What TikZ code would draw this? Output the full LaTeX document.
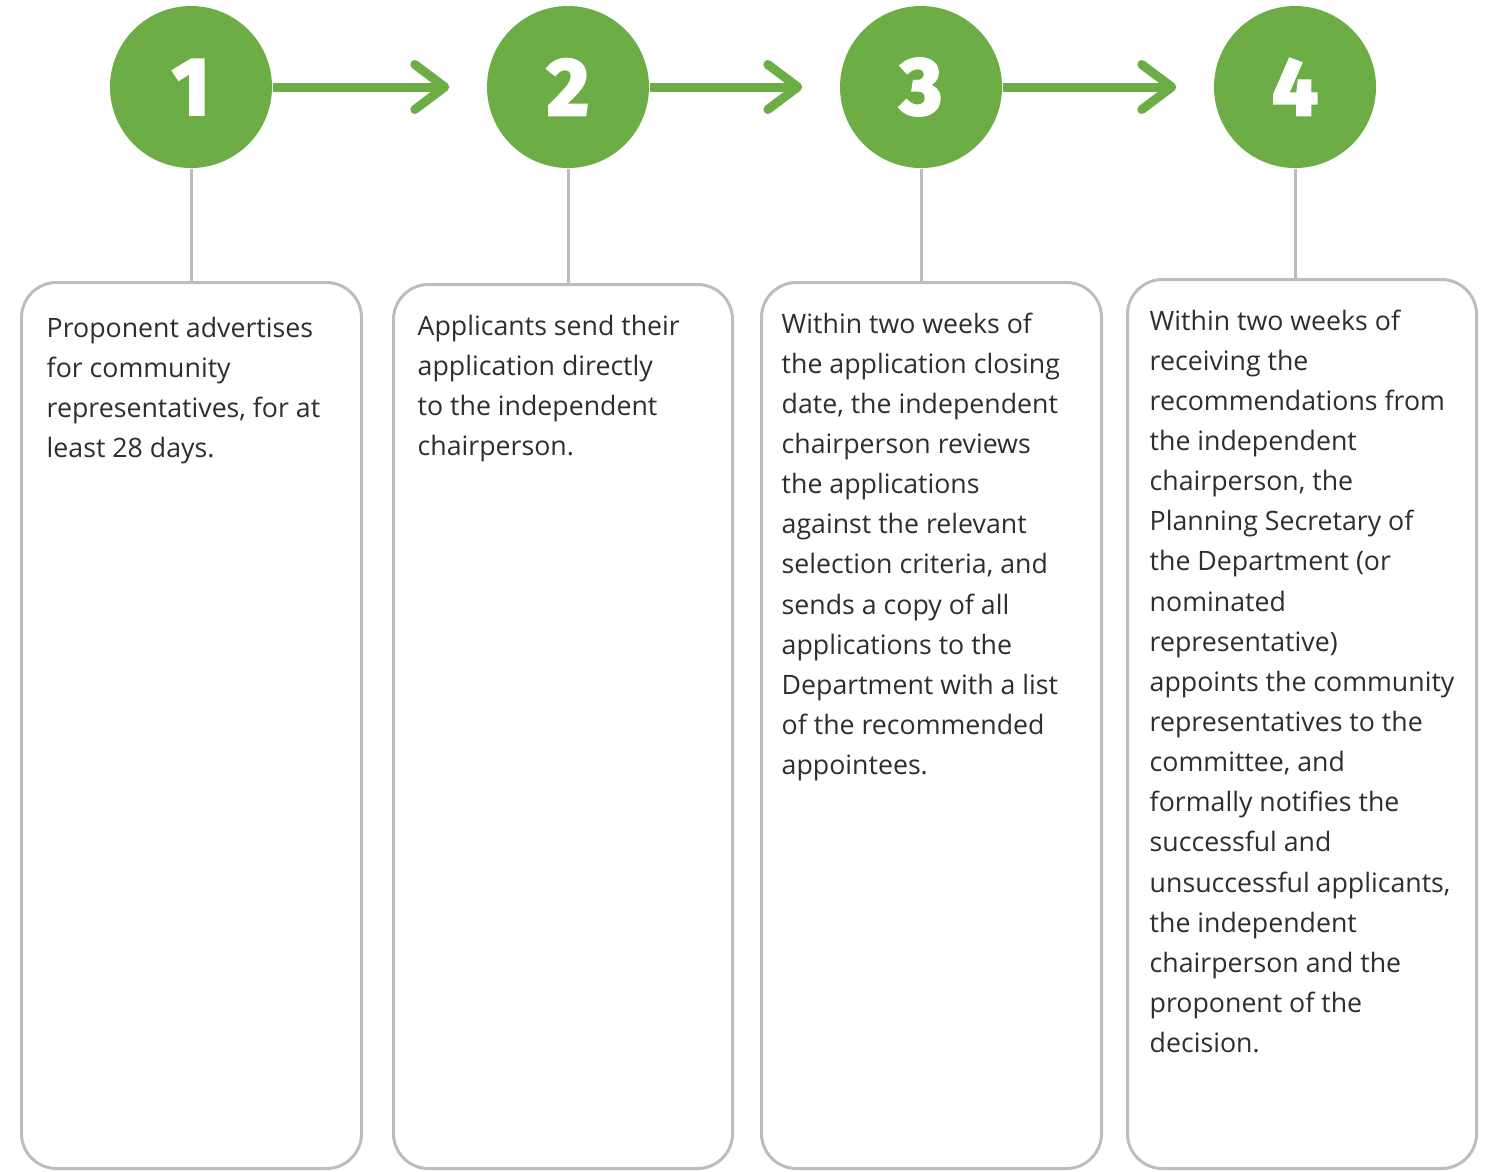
\documentclass[tikz,border=0pt]{standalone}
\usepackage{fontspec}
\setmainfont{Open Sans}
\newfontfamily\numfont{Fira Sans}[BoldFeatures={FakeBold=3.5}]
\usetikzlibrary{arrows.meta}
\definecolor{stepgreen}{HTML}{6DAD45}
\definecolor{linegray}{HTML}{BDBDBD}
\definecolor{textgray}{HTML}{2E2E2E}
\tikzset{
  num/.style={circle, fill=stepgreen, minimum size=1.62cm, inner sep=0pt,
    text=white, font=\numfont\bfseries\fontsize{23}{23}\selectfont},
  card/.style={draw=linegray, line width=0.03cm, rounded corners=0.35cm,
    anchor=north west, inner sep=0pt},
  cardtext/.style={anchor=north west, align=left, inner sep=0pt,
    text=textgray, font=\fontsize{7.6}{11.42}\selectfont},
  flow/.style={-{Straight Barb[length=0.3cm, width=0.45cm, line cap=round, line join=round]},
    draw=stepgreen, line width=0.09cm, shorten >=0.37cm},
  stem/.style={draw=linegray, line width=0.03cm}
}
\begin{document}
\begin{tikzpicture}
\useasboundingbox (0,0) rectangle (14.87,-11.71);
% numbered steps
\foreach \i/\x in {1/1.91,2/5.68,3/9.21,4/12.95}
  \node[num] (n\i) at (\x,-0.87) {\i};
\foreach \a/\b in {1/2,2/3,3/4}
  \draw[flow] (n\a.east) -- (n\b.west);
% cards
\foreach \i/\x/\y/\w in {1/0.20/2.81/3.40,2/3.92/2.83/3.39,3/7.60/2.81/3.40,4/11.26/2.78/3.49}
  \node[card, minimum width=\w cm, minimum height={(11.67-\y)*1cm}] (c\i) at (\x,-\y) {};
\foreach \i in {1,...,4}
  \draw[stem] (n\i.south) -- (n\i.south |- c\i.north);
\node[cardtext] (t1) at ([shift={(0.26,-0.35)}]c1.north west)
  {Proponent advertises\\for community\\representatives, for at\\least 28 days.};
\node[cardtext] (t2) at ([shift={(0.25,-0.31)}]c2.north west)
  {Applicants send their\\application directly\\to the independent\\chairperson.};
\node[cardtext] (t3) at ([shift={(0.21,-0.31)}]c3.north west)
  {Within two weeks of\\the application closing\\date, the independent\\chairperson reviews\\the applications\\against the relevant\\selection criteria, and\\sends a copy of all\\applications to the\\Department with a list\\of the recommended\\appointees.};
\node[cardtext] (t4) at ([shift={(0.23,-0.31)}]c4.north west)
  {Within two weeks of\\receiving the\\recommendations from\\the independent\\chairperson, the\\Planning Secretary of\\the Department (or\\nominated\\representative)\\appoints the community\\representatives to the\\committee, and\\formally notifies the\\successful and\\unsuccessful applicants,\\the independent\\chairperson and the\\proponent of the\\decision.};
\end{tikzpicture}
\end{document}
